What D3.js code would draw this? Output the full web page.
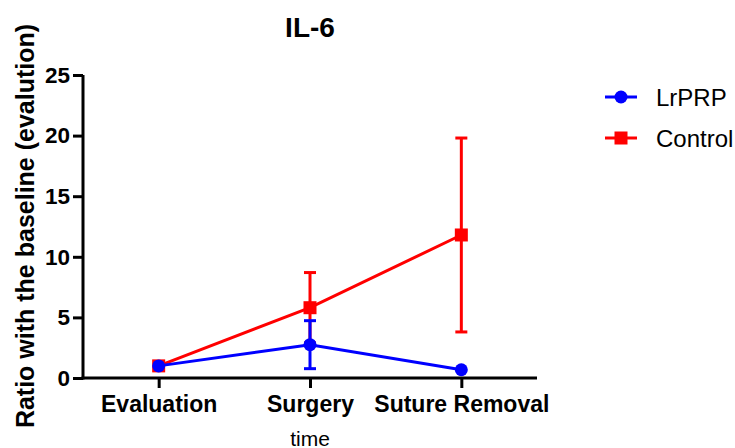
<!DOCTYPE html>
<html><head><meta charset="utf-8">
<script src="https://cdn.jsdelivr.net/npm/d3@7"></script>
<style>body{margin:0;background:#fff}svg{display:block}text{font-family:"Liberation Sans",Arial,sans-serif}</style>
</head><body><svg id="c" width="735" height="448"></svg>
<script>
const categories = ["Evaluation", "Surgery", "Suture Removal"];
const lrprpMean = [1.0, 2.75, 0.68];
const lrprpErr = [0.0, 1.98, 0.0];
const controlMean = [1.0, 5.8, 11.8];
const controlErr = [0.0, 2.9, 8.0];
const yTicks = [0, 5, 10, 15, 20, 25];
const seriesNames = ["LrPRP", "Control"];
const colors = ["#0000ff", "#ff0000"];

const svg = d3.select("#c");
const L = 83, R = 537, T = 75, B = 378;
const x = d3.scalePoint().domain(categories).range([L, R]).padding(0.5);
const y = d3.scaleLinear().domain([0, 25]).range([B, T]);

// axes
const ya = svg.append("g").attr("transform", `translate(${L},0)`)
  .call(d3.axisLeft(y).tickValues(yTicks).tickSize(10).tickPadding(3).tickSizeOuter(0));
const xa = svg.append("g").attr("transform", `translate(0,${B})`)
  .call(d3.axisBottom(x).tickSize(10).tickPadding(8).tickSizeOuter(0));
[ya, xa].forEach(a => {
  a.select(".domain").attr("stroke", "#000").attr("stroke-width", 3);
  a.selectAll(".tick line").attr("stroke", "#000").attr("stroke-width", 3);
  a.selectAll(".tick text").attr("fill", "#000").attr("font-weight", "bold");
});
ya.selectAll(".tick text").attr("font-size", 22.5);
xa.selectAll(".tick text").attr("font-size", 23);
ya.select(".domain").attr("d", `M0,${B+1.5}V${T}`);
xa.select(".domain").attr("d", `M${L-1.5},0H${R}`);

const series = [
  {name: seriesNames[0], mean: lrprpMean, err: lrprpErr, color: colors[0], shape: "circle"},
  {name: seriesNames[1], mean: controlMean, err: controlErr, color: colors[1], shape: "square"}
];
const line = d3.line().x((d, i) => x(categories[i])).y(d => y(d));

function marker(g, shape, cx, cy, color) {
  if (shape === "circle") g.append("circle").attr("cx", cx).attr("cy", cy).attr("r", 6.5).attr("fill", color);
  else g.append("rect").attr("x", cx - 6.5).attr("y", cy - 6.5).attr("width", 13).attr("height", 13).attr("fill", color);
}

// draw control first, then LrPRP on top
[series[1], series[0]].forEach(s => {
  const g = svg.append("g");
  g.append("path").attr("d", line(s.mean)).attr("fill", "none").attr("stroke", s.color).attr("stroke-width", 3);
  s.mean.forEach((m, i) => {
    const e = s.err[i];
    if (e > 0) {
      const cx = x(categories[i]);
      g.append("line").attr("x1", cx).attr("x2", cx).attr("y1", y(m - e)).attr("y2", y(m + e)).attr("stroke", s.color).attr("stroke-width", 3);
      [m - e, m + e].forEach(v => g.append("line").attr("x1", cx - 6).attr("x2", cx + 6).attr("y1", y(v)).attr("y2", y(v)).attr("stroke", s.color).attr("stroke-width", 3));
    }
    marker(g, s.shape, x(categories[i]), y(m), s.color);
  });
});

// title
svg.append("text").attr("x", x(categories[1])).attr("y", 37).attr("text-anchor", "middle")
  .attr("font-weight", "bold").attr("font-size", 28).text("IL-6");
// y label
svg.append("text").attr("transform", `translate(34,${(25+427)/2}) rotate(-90)`).attr("text-anchor", "middle")
  .attr("font-weight", "bold").attr("font-size", 25).text("Ratio with the baseline (evalution)");
// x label
svg.append("text").attr("x", x(categories[1])).attr("y", 446).attr("text-anchor", "middle")
  .attr("font-size", 21).text("time");

// legend
series.forEach((s, i) => {
  const ly = 97 + i * 41;
  const g = svg.append("g");
  g.append("line").attr("x1", 605).attr("x2", 637).attr("y1", ly).attr("y2", ly).attr("stroke", s.color).attr("stroke-width", 3);
  marker(g, s.shape, 621, ly, s.color);
  g.append("text").attr("x", 656).attr("y", ly + 9).attr("font-size", 24).text(s.name);
});
</script></body></html>
